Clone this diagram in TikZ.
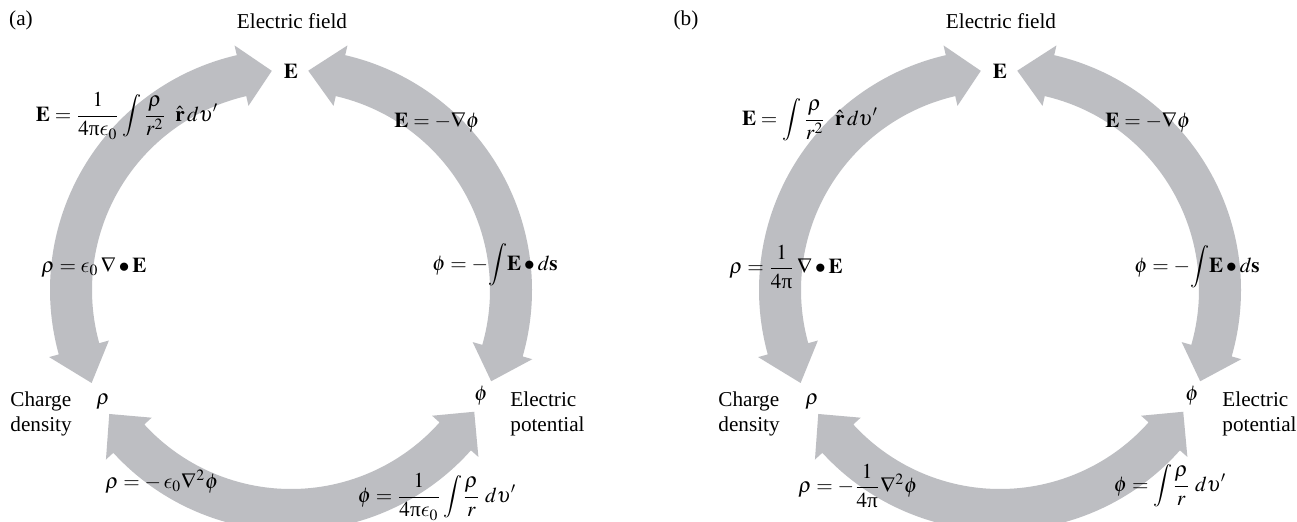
\documentclass[tikz,border=0pt]{standalone}
\usepackage{mathptmx}
\usepackage{fontspec}
\setmainfont{Liberation Serif}
\DeclareSymbolFont{cmlett}{OML}{cmm}{m}{it}
\DeclareMathSymbol{\lepsilon}{\mathord}{cmlett}{"0F}
\newcommand\upi{\mbox{π}}
\definecolor{bandgray}{RGB}{189,190,194}
\newcommand\Ro{241}
\newcommand\Ri{199}
\newcommand\Rm{220}
\newcommand\Rh{251}
\newcommand\Rl{189}
% #1 tip A, #2 base A, #3 base B, #4 tip B (angles, ccw from A to B)
\newcommand\bandarrow[4]{%
  \fill[bandgray] (#2:\Ro) arc[start angle=#2, end angle=#3, radius=\Ro]
    -- (#3:\Rh) -- (#4:\Rm) -- (#3:\Rl) -- (#3:\Ri)
    arc[start angle=#3, end angle=#2, radius=\Ri]
    -- (#2:\Rl) -- (#1:\Rm) -- (#2:\Rh) -- cycle;}
\newcommand\cycle[2]{%
  \begin{scope}[shift={(#1,#2)}, yscale=-1]
    \bandarrow{95}{103}{195.5}{205}
    \bandarrow{-24.5}{-16}{77}{85.5}
    \bandarrow{214.3}{222.5}{318.3}{326.4}
  \end{scope}}
\tikzset{
  lbl/.style={font=\fontsize{10.6}{12.5}\selectfont, inner sep=0pt},
  side/.style={lbl, align=left, anchor=west},
}
\begin{document}
\begin{tikzpicture}[x=0.5pt, y=-0.5pt]
\useasboundingbox (0,0) rectangle (1297,521);
\clip (0,0) rectangle (1297,521);
\fill[white] (0,0) rectangle (1297,521);
\cycle{291}{290}
\cycle{1000}{290}
% ---------- (a)
\node[lbl] (la) at (21,20) {(a)};
\node[lbl] (efa) at (292,21) {Electric field};
\node[lbl] (Ea) at (291,71) {$\mathbf{E}$};
\node[side] (cda) at (10,414) {Charge\\density};
\node[lbl] (rhoa) at (103,402) {$\rho$};
\node[lbl] (phia) at (481,396) {$\phi$};
\node[side] (epa) at (510,414) {Electric\\potential};
\node[lbl] (fa1) at (127,116) {$\displaystyle \mathbf{E} = \frac{1}{4\upi\lepsilon_0}\int\frac{\rho}{r^2}\;\;\hat{\mathbf{r}}\,d\upsilon'$};
\node[lbl] (fa2) at (437,122) {$\mathbf{E} = -\nabla\phi$};
\node[lbl] (fa3) at (94,267) {$\rho = \lepsilon_0\,\nabla\bullet\mathbf{E}$};
\node[lbl] (fa4) at (495,265) {$\displaystyle \phi = -\!\int\!\mathbf{E}\bullet d\mathbf{s}$};
\node[lbl] (fa5) at (162,482) {$\rho = -\,\lepsilon_0\nabla^2\phi$};
\node[lbl] (fa6) at (437,497) {$\displaystyle \phi = \frac{1}{4\upi\lepsilon_0}\int\!\frac{\rho}{r}\;d\upsilon'$};
% ---------- (b)
\node[lbl] (lb) at (686,20) {(b)};
\node[lbl] (efb) at (1001,21) {Electric field};
\node[lbl] (Eb) at (1000,71) {$\mathbf{E}$};
\node[side] (cdb) at (718,414) {Charge\\density};
\node[lbl] (rhob) at (812,402) {$\rho$};
\node[lbl] (phib) at (1192,396) {$\phi$};
\node[side] (epb) at (1222,414) {Electric\\potential};
\node[lbl] (fb1) at (810,120) {$\displaystyle \mathbf{E} = \int\frac{\rho}{r^2}\;\;\hat{\mathbf{r}}\,d\upsilon'$};
\node[lbl] (fb2) at (1148,122) {$\mathbf{E} = -\nabla\phi$};
\node[lbl] (fb3) at (786,267) {$\displaystyle \rho = \frac{1}{4\upi}\,\nabla\bullet\mathbf{E}$};
\node[lbl] (fb4) at (1197,267) {$\displaystyle \phi = -\!\int\!\mathbf{E}\bullet d\mathbf{s}$};
\node[lbl] (fb5) at (858,486) {$\displaystyle \rho = -\frac{1}{4\upi}\nabla^2\phi$};
\node[lbl] (fb6) at (1170,486) {$\displaystyle \phi = \int\!\frac{\rho}{r}\;d\upsilon'$};
\end{tikzpicture}
\end{document}
